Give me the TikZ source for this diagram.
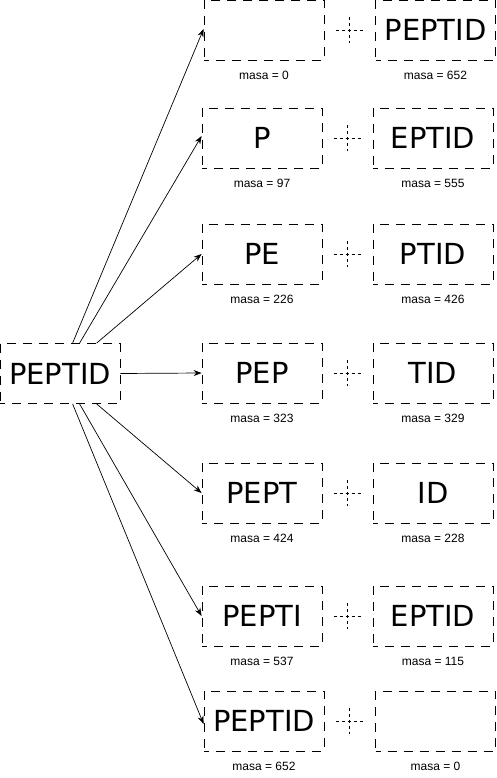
\documentclass[tikz,border=0pt]{standalone}
\usepackage{fontspec}
\setmainfont{DejaVu Sans}
\newfontfamily\labfont{Liberation Sans}
\usetikzlibrary{arrows.meta,calc}
\tikzset{
  fragbox/.style={draw=black, line width=0.8pt, dash pattern=on 9pt off 7pt, dash phase=4pt,
    minimum width=120pt, minimum height=60pt, inner sep=0pt, font=\fontsize{29}{30}\selectfont},
  masslabel/.style={font=\labfont\fontsize{12}{13}\selectfont, inner sep=0pt},
  crossline/.style={draw=black, line width=0.6pt, dash pattern=on 3pt off 3pt},
  conn/.style={draw=black, line width=0.7pt, -{Stealth[length=8pt,width=6pt]}}
}
\begin{document}
\begin{tikzpicture}[x=1pt,y=-1pt]
\useasboundingbox (0,0) rectangle (497,778);
\node[fragbox] (src) at (60,373.5) {PEPTID};
\foreach \i/\lx/\rx/\t/\a/\b/\ma/\mb in {
  1/264/435.5/0//PEPTID/0/652,
  2/262/433/108/P/EPTID/97/555,
  3/262/433/224/PE/PTID/226/426,
  4/262/433/343/PEP/TID/323/329,
  5/262/433/463/PEPT/ID/424/228,
  6/262/433/586/PEPTI/EPTID/537/115,
  7/264/435.5/691/PEPTID//652/0}{
  \node[fragbox] (L\i) at (\lx,\t+30) {\a};
  \node[fragbox] (R\i) at (\rx,\t+30) {\b};
  \node[masslabel] (ml\i) at (\lx,\t+75) {masa = \ma};
  \node[masslabel] (mr\i) at (\rx,\t+75) {masa = \mb};
  \coordinate (c\i) at ($(L\i.east)!0.5!(R\i.west)$);
  \draw[crossline] ($(c\i)+(-14,0)$) -- ($(c\i)+(14,0)$);
  \draw[crossline] ($(c\i)+(0,-13)$) -- ($(c\i)+(0,13)$);
}
\draw[conn] ([xshift=73pt]src.north west) -- ([yshift=1pt]L1.west);
\draw[conn] ([xshift=80pt]src.north west) -- ([yshift=2pt]L2.west);
\draw[conn] ([xshift=97pt]src.north west) -- (L3.west);
\draw[conn] (src.east) -- (L4.west);
\draw[conn] ([xshift=97pt]src.south west) -- (L5.west);
\draw[conn] ([xshift=80pt]src.south west) -- (L6.west);
\draw[conn] ([xshift=73pt]src.south west) -- ([yshift=-3pt]L7.west);
\end{tikzpicture}
\end{document}
